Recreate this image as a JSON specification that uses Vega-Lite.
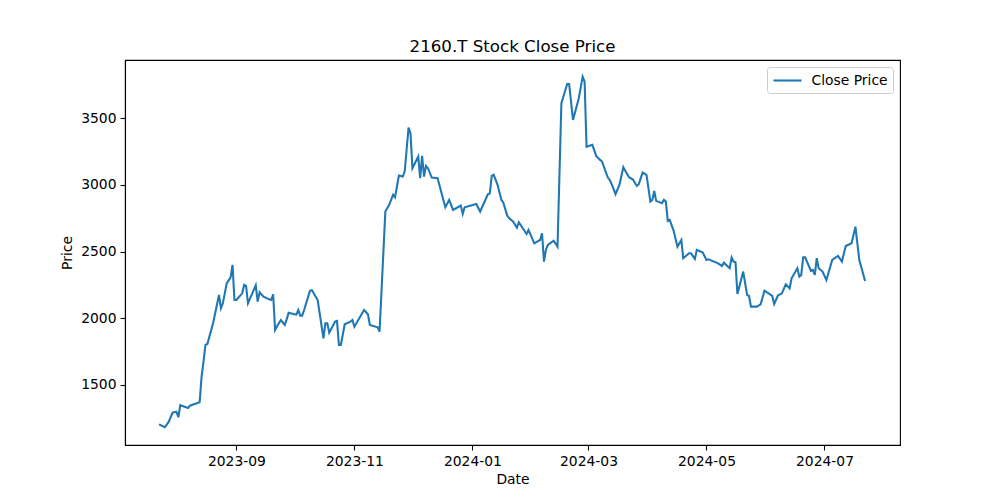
{
  "$schema": "https://vega.github.io/schema/vega-lite/v6.json",
  "width": 775,
  "height": 385,
  "autosize": {"type": "none"},
  "padding": {"left": 125, "top": 60, "right": 100, "bottom": 55},
  "background": "white",
  "title": {"text": "2160.T Stock Close Price", "fontSize": 16.67, "font": "DejaVu Sans", "fontWeight": "normal", "color": "black", "offset": -9, "anchor": "middle", "baseline": "alphabetic"},
  "config": {
    "view": {"stroke": "black", "strokeWidth": 1.1},
    "axis": {
      "domainColor": "black", "domainWidth": 1.1, "tickColor": "black", "tickWidth": 1.1, "tickSize": 5,
      "labelFont": "DejaVu Sans", "labelFontSize": 13.89, "labelColor": "black", "labelPadding": 4,
      "titleFont": "DejaVu Sans", "titleFontSize": 13.89, "titleFontWeight": "normal", "titleColor": "black",
      "grid": false
    },
    "legend": {
      "orient": "top-right", "offset": 7, "strokeColor": "#cccccc", "fillColor": "white", "cornerRadius": 3,
      "padding": 5, "symbolType": "M-2,0H2", "symbolSize": 196, "symbolStrokeWidth": 2.08, "symbolOffset": 7,
      "labelFont": "DejaVu Sans", "labelFontSize": 13.89, "labelColor": "black", "labelOffset": 15.5
    }
  },
  "data": {"values": [
    {"Date": "2023-07-23", "Close": 1205},
    {"Date": "2023-07-26", "Close": 1183},
    {"Date": "2023-07-28", "Close": 1223},
    {"Date": "2023-07-30", "Close": 1292},
    {"Date": "2023-08-01", "Close": 1300},
    {"Date": "2023-08-02", "Close": 1258},
    {"Date": "2023-08-03", "Close": 1348},
    {"Date": "2023-08-07", "Close": 1328},
    {"Date": "2023-08-08", "Close": 1345},
    {"Date": "2023-08-13", "Close": 1370},
    {"Date": "2023-08-14", "Close": 1562},
    {"Date": "2023-08-15", "Close": 1675},
    {"Date": "2023-08-16", "Close": 1800},
    {"Date": "2023-08-17", "Close": 1807},
    {"Date": "2023-08-20", "Close": 1967},
    {"Date": "2023-08-23", "Close": 2175},
    {"Date": "2023-08-24", "Close": 2075},
    {"Date": "2023-08-25", "Close": 2112},
    {"Date": "2023-08-27", "Close": 2262},
    {"Date": "2023-08-29", "Close": 2307},
    {"Date": "2023-08-30", "Close": 2400},
    {"Date": "2023-08-31", "Close": 2137},
    {"Date": "2023-09-01", "Close": 2137},
    {"Date": "2023-09-04", "Close": 2187},
    {"Date": "2023-09-05", "Close": 2250},
    {"Date": "2023-09-06", "Close": 2242},
    {"Date": "2023-09-07", "Close": 2112},
    {"Date": "2023-09-11", "Close": 2247},
    {"Date": "2023-09-12", "Close": 2125},
    {"Date": "2023-09-13", "Close": 2195},
    {"Date": "2023-09-15", "Close": 2162},
    {"Date": "2023-09-18", "Close": 2142},
    {"Date": "2023-09-19", "Close": 2137},
    {"Date": "2023-09-20", "Close": 2180},
    {"Date": "2023-09-21", "Close": 1912},
    {"Date": "2023-09-22", "Close": 1940},
    {"Date": "2023-09-24", "Close": 1987},
    {"Date": "2023-09-26", "Close": 1950},
    {"Date": "2023-09-27", "Close": 1992},
    {"Date": "2023-09-28", "Close": 2042},
    {"Date": "2023-10-01", "Close": 2030},
    {"Date": "2023-10-02", "Close": 2027},
    {"Date": "2023-10-03", "Close": 2062},
    {"Date": "2023-10-04", "Close": 2020},
    {"Date": "2023-10-05", "Close": 2020},
    {"Date": "2023-10-06", "Close": 2062},
    {"Date": "2023-10-09", "Close": 2205},
    {"Date": "2023-10-10", "Close": 2212},
    {"Date": "2023-10-13", "Close": 2137},
    {"Date": "2023-10-16", "Close": 1850},
    {"Date": "2023-10-17", "Close": 1962},
    {"Date": "2023-10-18", "Close": 1962},
    {"Date": "2023-10-19", "Close": 1892},
    {"Date": "2023-10-22", "Close": 1975},
    {"Date": "2023-10-23", "Close": 1980},
    {"Date": "2023-10-24", "Close": 1800},
    {"Date": "2023-10-25", "Close": 1800},
    {"Date": "2023-10-27", "Close": 1955},
    {"Date": "2023-10-30", "Close": 1975},
    {"Date": "2023-10-31", "Close": 1987},
    {"Date": "2023-11-01", "Close": 1937},
    {"Date": "2023-11-06", "Close": 2062},
    {"Date": "2023-11-08", "Close": 2030},
    {"Date": "2023-11-09", "Close": 1950},
    {"Date": "2023-11-13", "Close": 1932},
    {"Date": "2023-11-14", "Close": 1900},
    {"Date": "2023-11-17", "Close": 2800},
    {"Date": "2023-11-19", "Close": 2850},
    {"Date": "2023-11-21", "Close": 2925},
    {"Date": "2023-11-22", "Close": 2907},
    {"Date": "2023-11-24", "Close": 3070},
    {"Date": "2023-11-26", "Close": 3062},
    {"Date": "2023-11-27", "Close": 3100},
    {"Date": "2023-11-29", "Close": 3430},
    {"Date": "2023-11-30", "Close": 3387},
    {"Date": "2023-12-01", "Close": 3125},
    {"Date": "2023-12-04", "Close": 3212},
    {"Date": "2023-12-05", "Close": 3050},
    {"Date": "2023-12-06", "Close": 3217},
    {"Date": "2023-12-07", "Close": 3062},
    {"Date": "2023-12-08", "Close": 3142},
    {"Date": "2023-12-09", "Close": 3125},
    {"Date": "2023-12-11", "Close": 3055},
    {"Date": "2023-12-14", "Close": 3050},
    {"Date": "2023-12-18", "Close": 2832},
    {"Date": "2023-12-20", "Close": 2887},
    {"Date": "2023-12-22", "Close": 2812},
    {"Date": "2023-12-26", "Close": 2845},
    {"Date": "2023-12-27", "Close": 2782},
    {"Date": "2023-12-28", "Close": 2832},
    {"Date": "2024-01-03", "Close": 2857},
    {"Date": "2024-01-05", "Close": 2800},
    {"Date": "2024-01-09", "Close": 2930},
    {"Date": "2024-01-10", "Close": 2937},
    {"Date": "2024-01-11", "Close": 3067},
    {"Date": "2024-01-12", "Close": 3075},
    {"Date": "2024-01-14", "Close": 3000},
    {"Date": "2024-01-16", "Close": 2887},
    {"Date": "2024-01-17", "Close": 2867},
    {"Date": "2024-01-19", "Close": 2770},
    {"Date": "2024-01-20", "Close": 2750},
    {"Date": "2024-01-22", "Close": 2725},
    {"Date": "2024-01-24", "Close": 2680},
    {"Date": "2024-01-25", "Close": 2720},
    {"Date": "2024-01-29", "Close": 2632},
    {"Date": "2024-01-30", "Close": 2662},
    {"Date": "2024-02-02", "Close": 2562},
    {"Date": "2024-02-05", "Close": 2587},
    {"Date": "2024-02-06", "Close": 2637},
    {"Date": "2024-02-07", "Close": 2425},
    {"Date": "2024-02-08", "Close": 2512},
    {"Date": "2024-02-09", "Close": 2550},
    {"Date": "2024-02-12", "Close": 2582},
    {"Date": "2024-02-14", "Close": 2537},
    {"Date": "2024-02-16", "Close": 3612},
    {"Date": "2024-02-19", "Close": 3756},
    {"Date": "2024-02-20", "Close": 3756},
    {"Date": "2024-02-22", "Close": 3487},
    {"Date": "2024-02-25", "Close": 3650},
    {"Date": "2024-02-27", "Close": 3811},
    {"Date": "2024-02-28", "Close": 3774},
    {"Date": "2024-02-29", "Close": 3286},
    {"Date": "2024-03-03", "Close": 3300},
    {"Date": "2024-03-05", "Close": 3217},
    {"Date": "2024-03-07", "Close": 3187},
    {"Date": "2024-03-08", "Close": 3175},
    {"Date": "2024-03-11", "Close": 3055},
    {"Date": "2024-03-12", "Close": 3037},
    {"Date": "2024-03-13", "Close": 3005},
    {"Date": "2024-03-15", "Close": 2930},
    {"Date": "2024-03-17", "Close": 3000},
    {"Date": "2024-03-19", "Close": 3132},
    {"Date": "2024-03-20", "Close": 3105},
    {"Date": "2024-03-22", "Close": 3057},
    {"Date": "2024-03-24", "Close": 3040},
    {"Date": "2024-03-26", "Close": 2992},
    {"Date": "2024-03-27", "Close": 3005},
    {"Date": "2024-03-29", "Close": 3092},
    {"Date": "2024-03-31", "Close": 3075},
    {"Date": "2024-04-02", "Close": 2875},
    {"Date": "2024-04-03", "Close": 2887},
    {"Date": "2024-04-04", "Close": 2955},
    {"Date": "2024-04-05", "Close": 2880},
    {"Date": "2024-04-08", "Close": 2862},
    {"Date": "2024-04-09", "Close": 2887},
    {"Date": "2024-04-10", "Close": 2875},
    {"Date": "2024-04-11", "Close": 2730},
    {"Date": "2024-04-12", "Close": 2737},
    {"Date": "2024-04-14", "Close": 2657},
    {"Date": "2024-04-16", "Close": 2537},
    {"Date": "2024-04-18", "Close": 2587},
    {"Date": "2024-04-19", "Close": 2450},
    {"Date": "2024-04-22", "Close": 2487},
    {"Date": "2024-04-23", "Close": 2487},
    {"Date": "2024-04-25", "Close": 2445},
    {"Date": "2024-04-26", "Close": 2512},
    {"Date": "2024-04-29", "Close": 2495},
    {"Date": "2024-05-01", "Close": 2437},
    {"Date": "2024-05-02", "Close": 2442},
    {"Date": "2024-05-07", "Close": 2412},
    {"Date": "2024-05-09", "Close": 2392},
    {"Date": "2024-05-10", "Close": 2417},
    {"Date": "2024-05-13", "Close": 2375},
    {"Date": "2024-05-14", "Close": 2455},
    {"Date": "2024-05-15", "Close": 2425},
    {"Date": "2024-05-16", "Close": 2420},
    {"Date": "2024-05-17", "Close": 2182},
    {"Date": "2024-05-20", "Close": 2350},
    {"Date": "2024-05-22", "Close": 2175},
    {"Date": "2024-05-23", "Close": 2167},
    {"Date": "2024-05-24", "Close": 2087},
    {"Date": "2024-05-27", "Close": 2087},
    {"Date": "2024-05-29", "Close": 2105},
    {"Date": "2024-05-31", "Close": 2207},
    {"Date": "2024-06-04", "Close": 2167},
    {"Date": "2024-06-05", "Close": 2107},
    {"Date": "2024-06-07", "Close": 2172},
    {"Date": "2024-06-09", "Close": 2187},
    {"Date": "2024-06-11", "Close": 2255},
    {"Date": "2024-06-13", "Close": 2225},
    {"Date": "2024-06-14", "Close": 2300},
    {"Date": "2024-06-17", "Close": 2375},
    {"Date": "2024-06-18", "Close": 2312},
    {"Date": "2024-06-19", "Close": 2325},
    {"Date": "2024-06-20", "Close": 2457},
    {"Date": "2024-06-21", "Close": 2457},
    {"Date": "2024-06-24", "Close": 2355},
    {"Date": "2024-06-25", "Close": 2362},
    {"Date": "2024-06-26", "Close": 2325},
    {"Date": "2024-06-27", "Close": 2450},
    {"Date": "2024-06-28", "Close": 2375},
    {"Date": "2024-06-30", "Close": 2350},
    {"Date": "2024-07-02", "Close": 2287},
    {"Date": "2024-07-05", "Close": 2437},
    {"Date": "2024-07-08", "Close": 2467},
    {"Date": "2024-07-10", "Close": 2425},
    {"Date": "2024-07-12", "Close": 2542},
    {"Date": "2024-07-15", "Close": 2562},
    {"Date": "2024-07-17", "Close": 2687},
    {"Date": "2024-07-19", "Close": 2437},
    {"Date": "2024-07-22", "Close": 2280}
  ]},
  "mark": {"type": "line", "strokeWidth": 2.08, "clip": true},
  "encoding": {
    "x": {
      "field": "Date", "type": "temporal", "title": "Date",
      "scale": {"type": "utc", "domain": [
        {"year": 2023, "month": 7, "date": 5, "hours": 10, "utc": true},
        {"year": 2024, "month": 8, "date": 9, "hours": 1, "utc": true}
      ]},
      "axis": {
        "values": [
          {"year": 2023, "month": 9, "date": 1, "utc": true},
          {"year": 2023, "month": 11, "date": 1, "utc": true},
          {"year": 2024, "month": 1, "date": 1, "utc": true},
          {"year": 2024, "month": 3, "date": 1, "utc": true},
          {"year": 2024, "month": 5, "date": 1, "utc": true},
          {"year": 2024, "month": 7, "date": 1, "utc": true}
        ],
        "format": "%Y-%m", "labelFlush": false, "labelOverlap": false, "titlePadding": 5
      }
    },
    "y": {
      "field": "Close", "type": "quantitative", "title": "Price",
      "scale": {"domain": [1050, 3936], "zero": false, "nice": false},
      "axis": {"values": [1500, 2000, 2500, 3000, 3500], "format": "d", "titlePadding": 6}
    },
    "color": {
      "datum": "Close Price", "type": "nominal",
      "scale": {"range": ["#1f77b4"]},
      "legend": {"title": null}
    }
  }
}
